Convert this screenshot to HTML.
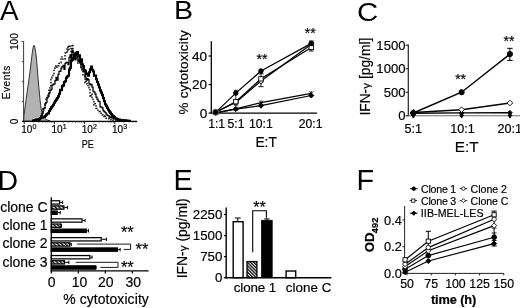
<!DOCTYPE html>
<html><head><meta charset="utf-8"><title>Figure</title>
<style>html,body{margin:0;padding:0;background:#fff;overflow:hidden}svg{display:block}text{font-family:"Liberation Sans",Arial,sans-serif;fill:#000;stroke:#000;stroke-width:0.18px}text.L{stroke:none}</style>
</head><body>
<svg width="520" height="308" viewBox="0 0 520 308">
<rect width="520" height="308" fill="#fff"/>
<text class="L" transform="translate(0.1 20) scale(1.0 1)" font-size="27.9">A</text>
<text class="L" transform="translate(174.0 19.3) scale(1.1 1)" font-size="26">B</text>
<text class="L" transform="translate(356.9 20.5) scale(1.13 1)" font-size="26">C</text>
<text class="L" transform="translate(-2.6 189.6) scale(1.0 1)" font-size="28.5">D</text>
<text class="L" transform="translate(173.5 189.8) scale(1.0 1)" font-size="28.8">E</text>
<text class="L" transform="translate(356.6 189.9) scale(1.0 1)" font-size="28.8">F</text>
<polygon points="23.6,121.2 23.9,116 24.8,109 26,100.4 27.4,90 28.9,80 30.2,70 31.4,60 32.4,52 33.2,47.2 34,45.3 34.8,47.2 35.7,52.5 36.6,60 37.4,70 38.2,80 39.1,90 40.1,100.4 41.2,109 42.6,115.3 44.5,118.4 47.5,120 50.5,121.2" fill="#b2b2b2" stroke="#333" stroke-width="1.0"/>
<polyline points="38.0,120.2 39.0,120.2 39.0,119.3 40.0,119.3 40.0,117.3 41.0,117.3 41.0,115.9 42.0,115.9 42.0,112.0 43.0,112.0 43.0,108.8 44.0,108.8 44.0,107.6 45.0,107.6 45.0,102.8 46.0,102.8 46.0,99.1 47.0,99.1 47.0,96.4 48.0,96.4 48.0,93.5 49.0,93.5 49.0,87.9 50.0,87.9 50.0,85.8 51.0,85.8 51.0,79.4 52.0,79.4 52.0,77.2 53.0,77.2 53.0,74.6 54.0,74.6 54.0,70.4 55.0,70.4 55.0,67.8 56.0,67.8 56.0,65.6 57.0,65.6 57.0,67.3 58.0,67.3 58.0,65.7 59.0,65.7 59.0,63.5 60.0,63.5 60.0,62.8 61.0,62.8 61.0,56.9 62.0,56.9 62.0,59.1 63.0,59.1 63.0,58.9 64.0,58.9 64.0,59.2 65.0,59.2 65.0,53.0 66.0,53.0 66.0,53.3 67.0,53.3 67.0,47.0 68.0,47.0 68.0,50.8 69.0,50.8 69.0,45.2 70.0,45.2 70.0,46.4 71.0,46.4 71.0,54.4 72.0,54.4 72.0,44.6 73.0,44.6 73.0,54.9 74.0,54.9 74.0,54.1 75.0,54.1 75.0,53.8 76.0,53.8 76.0,58.0 77.0,58.0 77.0,60.1 78.0,60.1 78.0,63.4 79.0,63.4 79.0,62.5 80.0,62.5 80.0,64.5 81.0,64.5 81.0,67.6 82.0,67.6 82.0,69.8 83.0,69.8 83.0,74.9 84.0,74.9 84.0,76.0 85.0,76.0 85.0,82.7 86.0,82.7 86.0,79.7 87.0,79.7 87.0,84.1 88.0,84.1 88.0,87.2 89.0,87.2 89.0,88.4 90.0,88.4 90.0,96.9 91.0,96.9 91.0,94.0 92.0,94.0 92.0,98.6 93.0,98.6 93.0,100.7 94.0,100.7 94.0,105.1 95.0,105.1 95.0,103.6 96.0,103.6 96.0,108.4 97.0,108.4 97.0,108.4 98.0,108.4 98.0,110.4 99.0,110.4 99.0,111.5 100.0,111.5 100.0,113.3 101.0,113.3 101.0,113.3 102.0,113.3 102.0,114.9 103.0,114.9 103.0,116.0 104.0,116.0 104.0,117.3 105.0,117.3 105.0,116.2 106.0,116.2 106.0,118.3 107.0,118.3 107.0,118.5 108.0,118.5 108.0,118.4 109.0,118.4 109.0,119.0 110.0,119.0 110.0,119.1 111.0,119.1 111.0,120.1 112.0,120.1 112.0,119.9 113.0,119.9 113.0,120.0 114.0,120.0 114.0,120.1 115.0,120.1 115.0,120.2 116.0,120.2 116.0,120.4 117.0,120.4 117.0,120.4 118.0,120.4 118.0,120.8 119.0,120.8 119.0,120.3" fill="none" stroke="#000" stroke-width="1.4" stroke-dasharray="1.5 1.6" stroke-linejoin="miter"/>
<polyline points="38.0,120.1 39.0,120.1 39.0,119.1 40.0,119.1 40.0,118.7 41.0,118.7 41.0,115.8 42.0,115.8 42.0,113.7 43.0,113.7 43.0,109.8 44.0,109.8 44.0,108.1 45.0,108.1 45.0,103.7 46.0,103.7 46.0,102.3 47.0,102.3 47.0,97.8 48.0,97.8 48.0,96.3 49.0,96.3 49.0,93.1 50.0,93.1 50.0,90.3 51.0,90.3 51.0,89.3 52.0,89.3 52.0,85.1 53.0,85.1 53.0,84.3 54.0,84.3 54.0,83.8 55.0,83.8 55.0,80.5 56.0,80.5 56.0,77.4 57.0,77.4 57.0,80.0 58.0,80.0 58.0,74.4 59.0,74.4 59.0,71.3 60.0,71.3 60.0,71.1 61.0,71.1 61.0,68.0 62.0,68.0 62.0,66.7 63.0,66.7 63.0,65.3 64.0,65.3 64.0,69.4 65.0,69.4 65.0,63.4 66.0,63.4 66.0,62.4 67.0,62.4 67.0,62.3 68.0,62.3 68.0,64.5 69.0,64.5 69.0,57.4 70.0,57.4 70.0,55.0 71.0,55.0 71.0,60.9 72.0,60.9 72.0,50.4 73.0,50.4 73.0,52.3 74.0,52.3 74.0,54.2 75.0,54.2 75.0,59.8 76.0,59.8 76.0,53.5 77.0,53.5 77.0,52.7 78.0,52.7 78.0,61.7 79.0,61.7 79.0,60.7 80.0,60.7 80.0,63.1 81.0,63.1 81.0,67.2 82.0,67.2 82.0,68.8 83.0,68.8 83.0,71.0 84.0,71.0 84.0,71.6 85.0,71.6 85.0,77.1 86.0,77.1 86.0,79.4 87.0,79.4 87.0,78.6 88.0,78.6 88.0,79.7 89.0,79.7 89.0,83.6 90.0,83.6 90.0,84.9 91.0,84.9 91.0,84.3 92.0,84.3 92.0,87.1 93.0,87.1 93.0,91.4 94.0,91.4 94.0,92.1 95.0,92.1 95.0,94.1 96.0,94.1 96.0,97.1 97.0,97.1 97.0,99.0 98.0,99.0 98.0,101.1 99.0,101.1 99.0,101.5 100.0,101.5 100.0,106.8 101.0,106.8 101.0,107.1 102.0,107.1 102.0,107.8 103.0,107.8 103.0,110.5 104.0,110.5 104.0,111.5 105.0,111.5 105.0,112.5 106.0,112.5 106.0,114.0 107.0,114.0 107.0,115.4 108.0,115.4 108.0,115.7 109.0,115.7 109.0,116.9 110.0,116.9 110.0,117.5 111.0,117.5 111.0,116.9 112.0,116.9 112.0,117.6 113.0,117.6 113.0,118.6 114.0,118.6 114.0,118.2 115.0,118.2 115.0,118.9 116.0,118.9 116.0,119.5 117.0,119.5 117.0,119.7 118.0,119.7 118.0,119.8 119.0,119.8 119.0,119.4 120.0,119.4 120.0,120.6 121.0,120.6 121.0,120.4 122.0,120.4 122.0,120.5 123.0,120.5 123.0,120.5 124.0,120.5 124.0,120.1 125.0,120.1 125.0,120.3 126.0,120.3 126.0,120.4 127.0,120.4 127.0,120.8 128.0,120.8 128.0,120.6" fill="none" stroke="#000" stroke-width="1.25" stroke-linejoin="miter"/>
<polyline points="32.0,120.5 33.0,120.5 33.0,120.5 34.0,120.5 34.0,120.4 35.0,120.4 35.0,120.0 36.0,120.0 36.0,119.6 37.0,119.6 37.0,119.6 38.0,119.6 38.0,119.4 39.0,119.4 39.0,119.1 40.0,119.1 40.0,118.2 41.0,118.2 41.0,117.8 42.0,117.8 42.0,117.8 43.0,117.8 43.0,117.3 44.0,117.3 44.0,116.9 45.0,116.9 45.0,115.9 46.0,115.9 46.0,114.6 47.0,114.6 47.0,113.7 48.0,113.7 48.0,113.4 49.0,113.4 49.0,111.0 50.0,111.0 50.0,109.1 51.0,109.1 51.0,107.4 52.0,107.4 52.0,106.3 53.0,106.3 53.0,104.7 54.0,104.7 54.0,102.7 55.0,102.7 55.0,101.1 56.0,101.1 56.0,99.6 57.0,99.6 57.0,98.1 58.0,98.1 58.0,96.4 59.0,96.4 59.0,93.7 60.0,93.7 60.0,89.9 61.0,89.9 61.0,90.2 62.0,90.2 62.0,86.1 63.0,86.1 63.0,85.4 64.0,85.4 64.0,82.0 65.0,82.0 65.0,81.3 66.0,81.3 66.0,77.8 67.0,77.8 67.0,76.5 68.0,76.5 68.0,75.7 69.0,75.7 69.0,69.6 70.0,69.6 70.0,67.6 71.0,67.6 71.0,60.8 72.0,60.8 72.0,59.6 73.0,59.6 73.0,58.5 74.0,58.5 74.0,55.0 75.0,55.0 75.0,54.2 76.0,54.2 76.0,52.9 77.0,52.9 77.0,52.0 78.0,52.0 78.0,56.3 79.0,56.3 79.0,55.3 80.0,55.3 80.0,61.7 81.0,61.7 81.0,59.4 82.0,59.4 82.0,64.3 83.0,64.3 83.0,66.0 84.0,66.0 84.0,70.2 85.0,70.2 85.0,70.7 86.0,70.7 86.0,74.1 87.0,74.1 87.0,73.5 88.0,73.5 88.0,75.7 89.0,75.7 89.0,72.2 90.0,72.2 90.0,69.4 91.0,69.4 91.0,66.5 92.0,66.5 92.0,69.8 93.0,69.8 93.0,71.5 94.0,71.5 94.0,75.7 95.0,75.7 95.0,75.5 96.0,75.5 96.0,79.1 97.0,79.1 97.0,82.0 98.0,82.0 98.0,84.6 99.0,84.6 99.0,87.5 100.0,87.5 100.0,90.4 101.0,90.4 101.0,92.6 102.0,92.6 102.0,95.1 103.0,95.1 103.0,98.1 104.0,98.1 104.0,101.2 105.0,101.2 105.0,104.2 106.0,104.2 106.0,105.9 107.0,105.9 107.0,107.9 108.0,107.9 108.0,109.7 109.0,109.7 109.0,111.4 110.0,111.4 110.0,112.6 111.0,112.6 111.0,114.1 112.0,114.1 112.0,115.6 113.0,115.6 113.0,116.1 114.0,116.1 114.0,117.0 115.0,117.0 115.0,118.3 116.0,118.3 116.0,118.5 117.0,118.5 117.0,119.2 118.0,119.2 118.0,119.8 119.0,119.8 119.0,119.5 120.0,119.5 120.0,120.2 121.0,120.2 121.0,120.3 122.0,120.3 122.0,120.1 123.0,120.1 123.0,120.4 124.0,120.4 124.0,120.4 125.0,120.4 125.0,120.3 126.0,120.3 126.0,120.5 127.0,120.5 127.0,120.6 128.0,120.6 128.0,120.8 129.0,120.8 129.0,120.8 130.0,120.8 130.0,120.8 131.0,120.8 131.0,120.8" fill="none" stroke="#000" stroke-width="2.1" stroke-linejoin="miter"/>
<line x1="23.6" y1="41" x2="23.6" y2="121.9" stroke="#3a3a3a" stroke-width="1.0" />
<line x1="22.0" y1="121.4" x2="137.2" y2="121.4" stroke="#000" stroke-width="1.3" />
<line x1="21.4" y1="41.4" x2="23.6" y2="41.4" stroke="#3a3a3a" stroke-width="0.9" />
<line x1="21.9" y1="61.6" x2="23.6" y2="61.6" stroke="#3a3a3a" stroke-width="0.9" />
<line x1="21.9" y1="81.6" x2="23.6" y2="81.6" stroke="#3a3a3a" stroke-width="0.9" />
<line x1="21.9" y1="101.5" x2="23.6" y2="101.5" stroke="#3a3a3a" stroke-width="0.9" />
<line x1="24.2" y1="121.4" x2="24.2" y2="124.0" stroke="#222" stroke-width="1.0" />
<line x1="33.29110586905223" y1="121.4" x2="33.29110586905223" y2="123.0" stroke="#444" stroke-width="0.6" />
<line x1="38.6090618925338" y1="121.4" x2="38.6090618925338" y2="123.0" stroke="#444" stroke-width="0.6" />
<line x1="42.38221173810446" y1="121.4" x2="42.38221173810446" y2="123.0" stroke="#444" stroke-width="0.6" />
<line x1="45.30889413094776" y1="121.4" x2="45.30889413094776" y2="123.0" stroke="#444" stroke-width="0.6" />
<line x1="47.70016776158604" y1="121.4" x2="47.70016776158604" y2="123.0" stroke="#444" stroke-width="0.6" />
<line x1="49.72196080843055" y1="121.4" x2="49.72196080843055" y2="123.0" stroke="#444" stroke-width="0.6" />
<line x1="51.473317607156694" y1="121.4" x2="51.473317607156694" y2="123.0" stroke="#444" stroke-width="0.6" />
<line x1="53.01812378506761" y1="121.4" x2="53.01812378506761" y2="123.0" stroke="#444" stroke-width="0.6" />
<line x1="54.4" y1="121.4" x2="54.4" y2="124.0" stroke="#222" stroke-width="1.0" />
<line x1="63.491105869052234" y1="121.4" x2="63.491105869052234" y2="123.0" stroke="#444" stroke-width="0.6" />
<line x1="68.8090618925338" y1="121.4" x2="68.8090618925338" y2="123.0" stroke="#444" stroke-width="0.6" />
<line x1="72.58221173810446" y1="121.4" x2="72.58221173810446" y2="123.0" stroke="#444" stroke-width="0.6" />
<line x1="75.50889413094777" y1="121.4" x2="75.50889413094777" y2="123.0" stroke="#444" stroke-width="0.6" />
<line x1="77.90016776158603" y1="121.4" x2="77.90016776158603" y2="123.0" stroke="#444" stroke-width="0.6" />
<line x1="79.92196080843055" y1="121.4" x2="79.92196080843055" y2="123.0" stroke="#444" stroke-width="0.6" />
<line x1="81.67331760715669" y1="121.4" x2="81.67331760715669" y2="123.0" stroke="#444" stroke-width="0.6" />
<line x1="83.2181237850676" y1="121.4" x2="83.2181237850676" y2="123.0" stroke="#444" stroke-width="0.6" />
<line x1="84.6" y1="121.4" x2="84.6" y2="124.0" stroke="#222" stroke-width="1.0" />
<line x1="93.69110586905222" y1="121.4" x2="93.69110586905222" y2="123.0" stroke="#444" stroke-width="0.6" />
<line x1="99.0090618925338" y1="121.4" x2="99.0090618925338" y2="123.0" stroke="#444" stroke-width="0.6" />
<line x1="102.78221173810445" y1="121.4" x2="102.78221173810445" y2="123.0" stroke="#444" stroke-width="0.6" />
<line x1="105.70889413094775" y1="121.4" x2="105.70889413094775" y2="123.0" stroke="#444" stroke-width="0.6" />
<line x1="108.10016776158604" y1="121.4" x2="108.10016776158604" y2="123.0" stroke="#444" stroke-width="0.6" />
<line x1="110.12196080843054" y1="121.4" x2="110.12196080843054" y2="123.0" stroke="#444" stroke-width="0.6" />
<line x1="111.8733176071567" y1="121.4" x2="111.8733176071567" y2="123.0" stroke="#444" stroke-width="0.6" />
<line x1="113.4181237850676" y1="121.4" x2="113.4181237850676" y2="123.0" stroke="#444" stroke-width="0.6" />
<line x1="114.8" y1="121.4" x2="114.8" y2="124.0" stroke="#222" stroke-width="1.0" />
<line x1="123.89110586905223" y1="121.4" x2="123.89110586905223" y2="123.0" stroke="#444" stroke-width="0.6" />
<line x1="129.2090618925338" y1="121.4" x2="129.2090618925338" y2="123.0" stroke="#444" stroke-width="0.6" />
<line x1="132.98221173810447" y1="121.4" x2="132.98221173810447" y2="123.0" stroke="#444" stroke-width="0.6" />
<line x1="135.90889413094777" y1="121.4" x2="135.90889413094777" y2="123.0" stroke="#444" stroke-width="0.6" />
<text x="18.3" y="41.6" font-size="10" text-anchor="middle" transform="rotate(-90 18.3 41.6)" >100</text>
<text x="18.3" y="121.5" font-size="10" text-anchor="middle" transform="rotate(-90 18.3 121.5)" >0</text>
<text x="9.9" y="99.2" font-size="10" transform="rotate(-90 9.9 99.2)" textLength="33.4" lengthAdjust="spacing" >Events</text>
<text x="21.3" y="133.3" font-size="10" >10</text>
<text x="32.6" y="128.9" font-size="7" >0</text>
<text x="51.5" y="133.3" font-size="10" >10</text>
<text x="62.8" y="128.9" font-size="7" >1</text>
<text x="81.7" y="133.3" font-size="10" >10</text>
<text x="93.0" y="128.9" font-size="7" >2</text>
<text x="111.89999999999999" y="133.3" font-size="10" >10</text>
<text x="123.19999999999999" y="128.9" font-size="7" >3</text>
<text transform="translate(81.8 147.6) scale(0.9 1.04)" font-size="10">PE</text>
<line x1="211.3" y1="41.2" x2="211.3" y2="113.75" stroke="#000" stroke-width="1.3" />
<line x1="210.65" y1="113.1" x2="317" y2="113.1" stroke="#000" stroke-width="1.3" />
<line x1="208.6" y1="113.1" x2="211.3" y2="113.1" stroke="#000" stroke-width="1.2" />
<line x1="208.6" y1="84.55" x2="211.3" y2="84.55" stroke="#000" stroke-width="1.2" />
<line x1="208.6" y1="55.99999999999999" x2="211.3" y2="55.99999999999999" stroke="#000" stroke-width="1.2" />
<text x="207.2" y="117.89999999999999" font-size="13.6" text-anchor="end" >0</text>
<text x="207.2" y="89.45" font-size="13.6" text-anchor="end" >20</text>
<text x="207.2" y="60.89999999999999" font-size="13.6" text-anchor="end" >40</text>
<text x="208.2" y="128.2" font-size="12.2" >1:1</text>
<text x="227.6" y="128.2" font-size="12.2" >5:1</text>
<text x="249" y="128.2" font-size="12.2" >10:1</text>
<text x="298.8" y="128.2" font-size="12.2" >20:1</text>
<text x="255.4" y="146.9" font-size="13.8" >E:T</text>
<text x="187.9" y="114.4" font-size="13.4" transform="rotate(-90 187.9 114.4)" textLength="84.0" lengthAdjust="spacing" >% cytotoxicity</text>
<text x="262.0" y="64.4" font-size="14" text-anchor="middle" >**</text>
<text x="310.3" y="37.6" font-size="14" text-anchor="middle" >**</text>
<polyline points="215.7,112.8 235.8,108.8 261.0,102.7 311.3,93.4" fill="none" stroke="#000" stroke-width="1.2" />
<polyline points="215.7,112.8 235.8,109.1 261.0,105.7 311.3,95.5" fill="none" stroke="#000" stroke-width="1.2" />
<polyline points="215.7,112.4 235.8,101.7 261.0,78.8 311.3,47.4" fill="none" stroke="#000" stroke-width="1.2" />
<polyline points="215.7,112.0 235.8,102.4 261.0,81.0 311.3,44.3" fill="none" stroke="#000" stroke-width="1.2" />
<polyline points="215.7,112.4 235.8,93.1 261.0,71.0 311.3,43.4" fill="none" stroke="#000" stroke-width="1.2" />
<line x1="260.96999999999997" y1="73.84375" x2="260.96999999999997" y2="86.69125" stroke="#000" stroke-width="0.9" />
<line x1="258.36999999999995" y1="73.84375" x2="263.57" y2="73.84375" stroke="#000" stroke-width="0.9" />
<line x1="258.36999999999995" y1="86.69125" x2="263.57" y2="86.69125" stroke="#000" stroke-width="0.9" />
<line x1="311.27" y1="41.01124999999999" x2="311.27" y2="51.00375" stroke="#000" stroke-width="0.9" />
<line x1="308.87" y1="41.01124999999999" x2="313.66999999999996" y2="41.01124999999999" stroke="#000" stroke-width="0.9" />
<line x1="308.87" y1="51.00375" x2="313.66999999999996" y2="51.00375" stroke="#000" stroke-width="0.9" />
<line x1="235.82" y1="90.25999999999999" x2="235.82" y2="105.24875" stroke="#000" stroke-width="0.8" />
<line x1="233.82" y1="90.25999999999999" x2="237.82" y2="90.25999999999999" stroke="#000" stroke-width="0.8" />
<line x1="233.82" y1="105.24875" x2="237.82" y2="105.24875" stroke="#000" stroke-width="0.8" />
<line x1="213.7" y1="110.8145" x2="217.7" y2="114.8145" stroke="#000" stroke-width="0.9" />
<line x1="213.7" y1="114.8145" x2="217.7" y2="110.8145" stroke="#000" stroke-width="0.9" />
<line x1="215.7" y1="110.41449999999999" x2="215.7" y2="115.2145" stroke="#000" stroke-width="0.9" />
<line x1="233.82" y1="106.8175" x2="237.82" y2="110.8175" stroke="#000" stroke-width="0.9" />
<line x1="233.82" y1="110.8175" x2="237.82" y2="106.8175" stroke="#000" stroke-width="0.9" />
<line x1="235.82" y1="106.41749999999999" x2="235.82" y2="111.2175" stroke="#000" stroke-width="0.9" />
<line x1="258.96999999999997" y1="100.67925" x2="262.96999999999997" y2="104.67925" stroke="#000" stroke-width="0.9" />
<line x1="258.96999999999997" y1="104.67925" x2="262.96999999999997" y2="100.67925" stroke="#000" stroke-width="0.9" />
<line x1="260.96999999999997" y1="100.27924999999999" x2="260.96999999999997" y2="105.07925" stroke="#000" stroke-width="0.9" />
<line x1="309.27" y1="91.4005" x2="313.27" y2="95.4005" stroke="#000" stroke-width="0.9" />
<line x1="309.27" y1="95.4005" x2="313.27" y2="91.4005" stroke="#000" stroke-width="0.9" />
<line x1="311.27" y1="91.00049999999999" x2="311.27" y2="95.8005" stroke="#000" stroke-width="0.9" />
<polygon points="215.7,110.3145 218.2,112.8145 215.7,115.3145 213.2,112.8145" fill="#000" stroke="#000" stroke-width="1"/>
<polygon points="235.82,106.603 238.32,109.103 235.82,111.603 233.32,109.103" fill="#000" stroke="#000" stroke-width="1"/>
<polygon points="260.96999999999997,103.17699999999999 263.46999999999997,105.67699999999999 260.96999999999997,108.17699999999999 258.46999999999997,105.67699999999999" fill="#000" stroke="#000" stroke-width="1"/>
<polygon points="311.27,93.04175 313.77,95.54175 311.27,98.04175 308.77,95.54175" fill="#000" stroke="#000" stroke-width="1"/>
<circle cx="215.7" cy="111.958" r="2.4" fill="#fff" stroke="#000" stroke-width="0.9"/>
<circle cx="235.82" cy="102.39375" r="2.4" fill="#fff" stroke="#000" stroke-width="0.9"/>
<circle cx="260.96999999999997" cy="80.98124999999999" r="2.4" fill="#fff" stroke="#000" stroke-width="0.9"/>
<circle cx="311.27" cy="44.294499999999985" r="2.4" fill="#fff" stroke="#000" stroke-width="0.9"/>
<rect x="213.5" y="110.18624999999999" width="4.4" height="4.4" fill="#fff" stroke="#000" stroke-width="0.9"/>
<rect x="233.62" y="99.47999999999999" width="4.4" height="4.4" fill="#fff" stroke="#000" stroke-width="0.9"/>
<rect x="258.77" y="76.64" width="4.4" height="4.4" fill="#fff" stroke="#000" stroke-width="0.9"/>
<rect x="309.07" y="45.234999999999985" width="4.4" height="4.4" fill="#fff" stroke="#000" stroke-width="0.9"/>
<circle cx="215.7" cy="112.38624999999999" r="2.25" fill="#000" stroke="#000" stroke-width="1"/>
<circle cx="235.82" cy="93.115" r="2.25" fill="#000" stroke="#000" stroke-width="1"/>
<circle cx="260.96999999999997" cy="70.98875" r="2.25" fill="#000" stroke="#000" stroke-width="1"/>
<circle cx="311.27" cy="43.438" r="2.25" fill="#000" stroke="#000" stroke-width="1"/>
<circle cx="215.7" cy="112.2435" r="3.1" fill="none" stroke="#777" stroke-width="0.8"/>
<line x1="408.3" y1="44.4" x2="408.3" y2="116.3" stroke="#222" stroke-width="1.2" />
<line x1="407.7" y1="115.8" x2="520" y2="115.8" stroke="#6a6a6a" stroke-width="1.1" />
<line x1="405.6" y1="115.8" x2="408.3" y2="115.8" stroke="#222" stroke-width="1.1" />
<line x1="405.6" y1="92.25" x2="408.3" y2="92.25" stroke="#222" stroke-width="1.1" />
<line x1="405.6" y1="68.69999999999999" x2="408.3" y2="68.69999999999999" stroke="#222" stroke-width="1.1" />
<line x1="405.6" y1="45.14999999999999" x2="408.3" y2="45.14999999999999" stroke="#222" stroke-width="1.1" />
<text x="405.5" y="120.39999999999999" font-size="13.1" text-anchor="end" >0</text>
<text x="405.5" y="96.85" font-size="13.1" text-anchor="end" >500</text>
<text x="405.5" y="73.29999999999998" font-size="13.1" text-anchor="end" >1000</text>
<text x="405.5" y="49.74999999999999" font-size="13.1" text-anchor="end" >1500</text>
<text x="404.6" y="132.7" font-size="12.6" >5:1</text>
<text x="450.3" y="132.7" font-size="12.6" >10:1</text>
<text x="497.4" y="132.7" font-size="12.6" >20:1</text>
<text x="454.8" y="152.1" font-size="15.3" >E:T</text>
<text x="370.5" y="115.6" font-size="13.8" transform="rotate(-90 370.5 115.6)" >IFN-<tspan font-size="11.7">γ</tspan> [pg/ml]</text>
<text x="460.6" y="84.2" font-size="14" text-anchor="middle" >**</text>
<text x="509" y="46.4" font-size="14" text-anchor="middle" >**</text>
<polyline points="413.3,113.2 461.6,112.9 509.9,112.7" fill="none" stroke="#000" stroke-width="1.4" />
<polyline points="413.3,112.5 461.6,109.7 509.9,103.0" fill="none" stroke="#000" stroke-width="1.4" />
<polyline points="413.3,113.0 461.6,92.2 509.9,54.1" fill="none" stroke="#000" stroke-width="1.4" />
<line x1="509.9" y1="48.3" x2="509.9" y2="60.4" stroke="#000" stroke-width="1.0" />
<line x1="507.2" y1="48.3" x2="512.6" y2="48.3" stroke="#000" stroke-width="1.0" />
<line x1="507.2" y1="60.4" x2="512.6" y2="60.4" stroke="#000" stroke-width="1.0" />
<polygon points="411.5,114.8658 415.1,114.8658 413.3,118.10579999999999" fill="#000" stroke="#000" stroke-width="1"/>
<polygon points="459.8,114.8658 463.40000000000003,114.8658 461.6,118.10579999999999" fill="#000" stroke="#000" stroke-width="1"/>
<polygon points="508.09999999999997,114.8658 511.7,114.8658 509.9,118.10579999999999" fill="#000" stroke="#000" stroke-width="1"/>
<polygon points="413.3,110.9095 415.6,113.20949999999999 413.3,115.50949999999999 411.0,113.20949999999999" fill="#000" stroke="#000" stroke-width="1"/>
<polygon points="461.6,110.5798 463.90000000000003,112.8798 461.6,115.1798 459.3,112.8798" fill="#000" stroke="#000" stroke-width="1"/>
<polygon points="509.9,110.3914 512.1999999999999,112.6914 509.9,114.9914 507.59999999999997,112.6914" fill="#000" stroke="#000" stroke-width="1"/>
<polygon points="413.3,109.703 416.1,112.503 413.3,115.303 410.5,112.503" fill="#fff" stroke="#000" stroke-width="0.9"/>
<polygon points="461.6,106.877 464.40000000000003,109.67699999999999 461.6,112.47699999999999 458.8,109.67699999999999" fill="#fff" stroke="#000" stroke-width="0.9"/>
<polygon points="509.9,100.1888 512.6999999999999,102.9888 509.9,105.7888 507.09999999999997,102.9888" fill="#fff" stroke="#000" stroke-width="0.9"/>
<circle cx="413.3" cy="112.974" r="2.6" fill="#000" stroke="#000" stroke-width="1"/>
<circle cx="461.6" cy="92.25" r="2.6" fill="#000" stroke="#000" stroke-width="1"/>
<circle cx="509.9" cy="54.099" r="2.6" fill="#000" stroke="#000" stroke-width="1"/>
<polygon points="413.7,109.5798 417.0,112.8798 413.7,116.1798 410.4,112.8798" fill="#000" stroke="#000" stroke-width="1"/>
<defs><pattern id="h1" width="2.7" height="2.7" patternUnits="userSpaceOnUse" patternTransform="rotate(-45)"><rect width="2.7" height="2.7" fill="#fff"/><rect width="1.35" height="2.7" fill="#000"/></pattern></defs>
<line x1="51.3" y1="197.3" x2="51.3" y2="271.5" stroke="#000" stroke-width="1.3" />
<line x1="50.7" y1="270.9" x2="148.6" y2="270.9" stroke="#000" stroke-width="1.3" />
<line x1="51.3" y1="270.9" x2="51.3" y2="273.4" stroke="#000" stroke-width="1.2" />
<line x1="78.3" y1="270.9" x2="78.3" y2="273.4" stroke="#000" stroke-width="1.2" />
<line x1="105.3" y1="270.9" x2="105.3" y2="273.4" stroke="#000" stroke-width="1.2" />
<line x1="132.3" y1="270.9" x2="132.3" y2="273.4" stroke="#000" stroke-width="1.2" />
<text x="51.6" y="286.5" font-size="14" text-anchor="middle" >0</text>
<text x="79.6" y="286.5" font-size="14" text-anchor="middle" >10</text>
<text x="105.8" y="286.5" font-size="14" text-anchor="middle" >20</text>
<text x="133.2" y="286.5" font-size="14" text-anchor="middle" >30</text>
<text x="63.2" y="304.1" font-size="13.9" textLength="85.6" lengthAdjust="spacing" >% cytotoxicity</text>
<text x="47.6" y="212.1" font-size="14" text-anchor="end" >clone C</text>
<text x="47.6" y="230.1" font-size="14" text-anchor="end" >clone 1</text>
<text x="47.6" y="248.3" font-size="14" text-anchor="end" >clone 2</text>
<text x="47.6" y="266.5" font-size="14" text-anchor="end" >clone 3</text>
<line x1="60.209999999999994" y1="202.4" x2="62.64" y2="202.4" stroke="#000" stroke-width="1.0" />
<line x1="62.64" y1="200.70000000000002" x2="62.64" y2="204.1" stroke="#000" stroke-width="1.0" />
<rect x="51.3" y="200.75" width="8.31" height="3.3" fill="#fff" stroke="#000" stroke-width="1.25"/>
<line x1="64.53" y1="207.55" x2="67.5" y2="207.55" stroke="#000" stroke-width="1.0" />
<line x1="67.5" y1="205.85000000000002" x2="67.5" y2="209.25" stroke="#000" stroke-width="1.0" />
<rect x="51.3" y="205.90" width="12.63" height="3.3" fill="url(#h1)" stroke="#000" stroke-width="1.25"/>
<line x1="57.78" y1="212.70000000000002" x2="60.209999999999994" y2="212.70000000000002" stroke="#000" stroke-width="1.0" />
<line x1="60.209999999999994" y1="211.00000000000003" x2="60.209999999999994" y2="214.4" stroke="#000" stroke-width="1.0" />
<rect x="51.3" y="211.05" width="5.88" height="3.3" fill="#000" stroke="#000" stroke-width="1.25"/>
<line x1="82.62" y1="220.5" x2="85.05" y2="220.5" stroke="#000" stroke-width="1.0" />
<line x1="85.05" y1="218.8" x2="85.05" y2="222.2" stroke="#000" stroke-width="1.0" />
<rect x="51.3" y="218.85" width="30.72" height="3.3" fill="#fff" stroke="#000" stroke-width="1.25"/>
<line x1="61.559999999999995" y1="225.65" x2="61.559999999999995" y2="225.65" stroke="#000" stroke-width="1.0" />
<line x1="61.559999999999995" y1="223.95000000000002" x2="61.559999999999995" y2="227.35" stroke="#000" stroke-width="1.0" />
<rect x="51.3" y="224.00" width="9.66" height="3.3" fill="url(#h1)" stroke="#000" stroke-width="1.25"/>
<line x1="86.94" y1="230.8" x2="88.56" y2="230.8" stroke="#000" stroke-width="1.0" />
<line x1="88.56" y1="229.10000000000002" x2="88.56" y2="232.5" stroke="#000" stroke-width="1.0" />
<rect x="51.3" y="229.15" width="35.04" height="3.3" fill="#000" stroke="#000" stroke-width="1.25"/>
<line x1="101.78999999999999" y1="239.3" x2="106.38" y2="239.3" stroke="#000" stroke-width="1.0" />
<line x1="106.38" y1="237.60000000000002" x2="106.38" y2="241.0" stroke="#000" stroke-width="1.0" />
<rect x="51.3" y="237.65" width="49.89" height="3.3" fill="#fff" stroke="#000" stroke-width="1.25"/>
<line x1="70.47" y1="244.45000000000002" x2="71.28" y2="244.45000000000002" stroke="#000" stroke-width="1.0" />
<line x1="71.28" y1="242.75000000000003" x2="71.28" y2="246.15" stroke="#000" stroke-width="1.0" />
<rect x="51.3" y="242.80" width="18.57" height="3.3" fill="url(#h1)" stroke="#000" stroke-width="1.25"/>
<line x1="117.99" y1="249.60000000000002" x2="120.15" y2="249.60000000000002" stroke="#000" stroke-width="1.0" />
<line x1="120.15" y1="247.90000000000003" x2="120.15" y2="251.3" stroke="#000" stroke-width="1.0" />
<rect x="51.3" y="247.95" width="66.09" height="3.3" fill="#000" stroke="#000" stroke-width="1.25"/>
<line x1="90.45" y1="257.2" x2="92.07" y2="257.2" stroke="#000" stroke-width="1.0" />
<line x1="92.07" y1="255.5" x2="92.07" y2="258.9" stroke="#000" stroke-width="1.0" />
<rect x="51.3" y="255.55" width="38.55" height="3.3" fill="#fff" stroke="#000" stroke-width="1.25"/>
<line x1="65.07" y1="262.34999999999997" x2="68.85" y2="262.34999999999997" stroke="#000" stroke-width="1.0" />
<line x1="68.85" y1="260.65" x2="68.85" y2="264.04999999999995" stroke="#000" stroke-width="1.0" />
<rect x="51.3" y="260.70" width="13.17" height="3.3" fill="url(#h1)" stroke="#000" stroke-width="1.25"/>
<line x1="96.12" y1="267.5" x2="96.12" y2="267.5" stroke="#000" stroke-width="1.0" />
<line x1="96.12" y1="265.8" x2="96.12" y2="269.2" stroke="#000" stroke-width="1.0" />
<rect x="51.3" y="265.85" width="44.22" height="3.3" fill="#000" stroke="#000" stroke-width="1.25"/>
<polyline points="77.1,244.1 130.6,244.1 130.6,249.4 123.6,249.4" fill="none" stroke="#000" stroke-width="0.9" />
<polyline points="75.7,262.3 118.0,262.3 118.0,267.4 100.4,267.4" fill="none" stroke="#000" stroke-width="0.9" />
<text x="127.3" y="237.6" font-size="16.5" text-anchor="middle" >**</text>
<text x="141.9" y="254.7" font-size="16.5" text-anchor="middle" >**</text>
<text x="127.3" y="272.6" font-size="16.5" text-anchor="middle" >**</text>
<line x1="226.2" y1="207.4" x2="226.2" y2="278.4" stroke="#000" stroke-width="1.4" />
<line x1="225.5" y1="277.7" x2="331.3" y2="277.7" stroke="#000" stroke-width="1.4" />
<line x1="223.9" y1="277.7" x2="226.2" y2="277.7" stroke="#000" stroke-width="1.2" />
<line x1="223.9" y1="256.6325" x2="226.2" y2="256.6325" stroke="#000" stroke-width="1.2" />
<line x1="223.9" y1="235.565" x2="226.2" y2="235.565" stroke="#000" stroke-width="1.2" />
<line x1="223.9" y1="214.4975" x2="226.2" y2="214.4975" stroke="#000" stroke-width="1.2" />
<text x="222.4" y="282.4" font-size="13.3" text-anchor="end" >0</text>
<text x="222.4" y="261.3325" font-size="13.3" text-anchor="end" >750</text>
<text x="222.4" y="240.265" font-size="13.3" text-anchor="end" >1500</text>
<text x="222.4" y="219.1975" font-size="13.3" text-anchor="end" >2250</text>
<text x="233.7" y="292.2" font-size="13.4" textLength="42.6" lengthAdjust="spacing" >clone 1</text>
<text x="285.7" y="292.2" font-size="13.4" textLength="45.8" lengthAdjust="spacing" >clone C</text>
<text x="187.2" y="278.3" font-size="13.9" transform="rotate(-90 187.2 278.3)" >IFN-<tspan font-size="11.8">γ</tspan> (pg/ml)</text>
<line x1="237.8" y1="218" x2="237.8" y2="224" stroke="#000" stroke-width="1.0" />
<line x1="234.8" y1="218" x2="240.8" y2="218" stroke="#000" stroke-width="1.0" />
<line x1="234.8" y1="224" x2="240.8" y2="224" stroke="#000" stroke-width="1.0" />
<rect x="233.2" y="221.7" width="9.9" height="56.0" fill="#fff" stroke="#000" stroke-width="1.4"/>
<defs><pattern id="h2" width="2.25" height="2.25" patternUnits="userSpaceOnUse" patternTransform="rotate(-45)"><rect width="2.25" height="2.25" fill="#fff"/><rect width="1.25" height="2.25" fill="#000"/></pattern></defs>
<rect x="247.0" y="261.6" width="9.9" height="16.099999999999966" fill="url(#h2)" stroke="#000" stroke-width="1.3"/>
<line x1="266.9" y1="218.8" x2="266.9" y2="222" stroke="#000" stroke-width="1.0" />
<line x1="264.2" y1="218.9" x2="269.6" y2="218.9" stroke="#000" stroke-width="1.0" />
<rect x="261.6" y="220.3" width="10.6" height="57.39999999999998" fill="#000" stroke="#000" stroke-width="0.8"/>
<rect x="286.1" y="271.0" width="9.6" height="6.699999999999989" fill="#fff" stroke="#000" stroke-width="1.4"/>
<polyline points="252.7,252.3 252.7,210.8 266.4,210.8 266.4,217.8" fill="none" stroke="#000" stroke-width="1.1" />
<text x="259.5" y="213.2" font-size="16" text-anchor="middle" >**</text>
<line x1="404.6" y1="206.0" x2="404.6" y2="273.9" stroke="#222" stroke-width="1.0" />
<line x1="404.1" y1="273.4" x2="503.9" y2="273.4" stroke="#222" stroke-width="1.0" />
<line x1="402.4" y1="273.4" x2="404.6" y2="273.4" stroke="#222" stroke-width="1.0" />
<line x1="402.4" y1="246.7" x2="404.6" y2="246.7" stroke="#222" stroke-width="1.0" />
<line x1="402.4" y1="219.99999999999997" x2="404.6" y2="219.99999999999997" stroke="#222" stroke-width="1.0" />
<line x1="407.0" y1="273.4" x2="407.0" y2="275.4" stroke="#222" stroke-width="1.0" />
<line x1="431.2" y1="273.4" x2="431.2" y2="275.4" stroke="#222" stroke-width="1.0" />
<line x1="455.4" y1="273.4" x2="455.4" y2="275.4" stroke="#222" stroke-width="1.0" />
<line x1="479.6" y1="273.4" x2="479.6" y2="275.4" stroke="#222" stroke-width="1.0" />
<line x1="503.8" y1="273.4" x2="503.8" y2="275.4" stroke="#222" stroke-width="1.0" />
<text x="401.9" y="277.9" font-size="12.8" text-anchor="end" >0.0</text>
<text x="401.9" y="251.2" font-size="12.8" text-anchor="end" >0.2</text>
<text x="401.9" y="224.49999999999997" font-size="12.8" text-anchor="end" >0.4</text>
<text x="407.0" y="287.5" font-size="12.3" text-anchor="middle" >50</text>
<text x="431.2" y="287.5" font-size="12.3" text-anchor="middle" >75</text>
<text x="455.4" y="287.5" font-size="12.3" text-anchor="middle" >100</text>
<text x="479.6" y="287.5" font-size="12.3" text-anchor="middle" >125</text>
<text x="503.8" y="287.5" font-size="12.3" text-anchor="middle" >150</text>
<text x="431" y="303.8" font-size="12.8" font-weight="bold" textLength="45.2" lengthAdjust="spacing" >time (h)</text>
<text x="374.3" y="252.3" font-size="13.3" font-weight="bold" transform="rotate(-90 374.3 252.3)" >OD</text>
<text x="377.6" y="233.2" font-size="9.3" font-weight="bold" transform="rotate(-90 377.6 233.2)" >492</text>
<polyline points="405.1,272.2 428.3,261.0 494.1,243.6" fill="none" stroke="#000" stroke-width="1.15" />
<polyline points="405.1,269.2 428.3,255.6 494.1,237.2" fill="none" stroke="#000" stroke-width="1.15" />
<polyline points="405.1,266.6 428.3,250.8 494.1,225.6" fill="none" stroke="#000" stroke-width="1.15" />
<polyline points="405.1,264.2 428.3,247.6 494.1,219.2" fill="none" stroke="#000" stroke-width="1.15" />
<polyline points="405.1,259.8 428.3,241.2 494.1,214.8" fill="none" stroke="#000" stroke-width="1.15" />
<line x1="428.296" y1="231.3" x2="428.296" y2="250" stroke="#000" stroke-width="1.0" />
<line x1="425.69599999999997" y1="231.3" x2="430.896" y2="231.3" stroke="#000" stroke-width="1.0" />
<line x1="425.69599999999997" y1="250" x2="430.896" y2="250" stroke="#000" stroke-width="1.0" />
<line x1="494.12" y1="211.1" x2="494.12" y2="246" stroke="#000" stroke-width="1.0" />
<line x1="491.52" y1="211.1" x2="496.72" y2="211.1" stroke="#000" stroke-width="1.0" />
<line x1="491.52" y1="246" x2="496.72" y2="246" stroke="#000" stroke-width="1.0" />
<line x1="491.72" y1="228" x2="496.52" y2="228" stroke="#000" stroke-width="0.9" />
<line x1="491.72" y1="233" x2="496.52" y2="233" stroke="#000" stroke-width="0.9" />
<line x1="491.72" y1="240.5" x2="496.52" y2="240.5" stroke="#000" stroke-width="0.9" />
<polygon points="405.064,269.7 407.564,272.2 405.064,274.7 402.564,272.2" fill="#000" stroke="#000" stroke-width="1"/>
<polygon points="428.296,258.5 430.796,261 428.296,263.5 425.796,261" fill="#000" stroke="#000" stroke-width="1"/>
<polygon points="494.12,241.1 496.62,243.6 494.12,246.1 491.62,243.6" fill="#000" stroke="#000" stroke-width="1"/>
<circle cx="405.064" cy="269.2" r="2.4" fill="#000" stroke="#000" stroke-width="1"/>
<circle cx="428.296" cy="255.6" r="2.4" fill="#000" stroke="#000" stroke-width="1"/>
<circle cx="494.12" cy="237.2" r="2.4" fill="#000" stroke="#000" stroke-width="1"/>
<polygon points="405.064,264.0 407.66400000000004,266.6 405.064,269.20000000000005 402.464,266.6" fill="#fff" stroke="#000" stroke-width="0.8"/>
<polygon points="428.296,248.20000000000002 430.896,250.8 428.296,253.4 425.69599999999997,250.8" fill="#fff" stroke="#000" stroke-width="0.8"/>
<polygon points="494.12,223.0 496.72,225.6 494.12,228.2 491.52,225.6" fill="#fff" stroke="#000" stroke-width="0.8"/>
<circle cx="405.064" cy="264.2" r="2.2" fill="#fff" stroke="#000" stroke-width="0.8"/>
<circle cx="428.296" cy="247.6" r="2.2" fill="#fff" stroke="#000" stroke-width="0.8"/>
<circle cx="494.12" cy="219.2" r="2.2" fill="#fff" stroke="#000" stroke-width="0.8"/>
<rect x="402.964" y="257.7" width="4.2" height="4.2" fill="#fff" stroke="#000" stroke-width="0.9"/>
<rect x="426.19599999999997" y="239.1" width="4.2" height="4.2" fill="#fff" stroke="#000" stroke-width="0.9"/>
<rect x="492.02" y="212.70000000000002" width="4.2" height="4.2" fill="#fff" stroke="#000" stroke-width="0.9"/>
<line x1="410" y1="188.7" x2="417.6" y2="188.7" stroke="#000" stroke-width="1.0" />
<circle cx="413.8" cy="188.7" r="1.7" fill="#000" stroke="#000" stroke-width="1"/>
<text x="421" y="193" font-size="10.6" textLength="35.2" lengthAdjust="spacing" >Clone 1</text>
<line x1="459.8" y1="188.6" x2="467.2" y2="188.6" stroke="#000" stroke-width="0.9" />
<circle cx="463.4" cy="188.6" r="1.8" fill="#fff" stroke="#000" stroke-width="0.8"/>
<text x="470.6" y="192.7" font-size="10.6" textLength="36.3" lengthAdjust="spacing" >Clone 2</text>
<line x1="409.6" y1="200.6" x2="417.2" y2="200.6" stroke="#000" stroke-width="0.9" />
<rect x="411.7" y="199.0" width="3.2" height="3.2" fill="#fff" stroke="#000" stroke-width="0.8"/>
<text x="421" y="204.8" font-size="10.6" textLength="35.2" lengthAdjust="spacing" >Clone 3</text>
<line x1="459.8" y1="200.7" x2="467.2" y2="200.7" stroke="#000" stroke-width="0.9" />
<polygon points="463.4,198.7 465.4,200.7 463.4,202.7 461.4,200.7" fill="#fff" stroke="#000" stroke-width="0.8"/>
<text x="470.6" y="204.7" font-size="10.6" textLength="37.8" lengthAdjust="spacing" >Clone C</text>
<line x1="410" y1="213.2" x2="417.6" y2="213.2" stroke="#000" stroke-width="1.0" />
<polygon points="413.8,211.1 415.90000000000003,213.2 413.8,215.29999999999998 411.7,213.2" fill="#000" stroke="#000" stroke-width="1"/>
<text x="420.8" y="217.4" font-size="10.6" textLength="62.8" lengthAdjust="spacing" >IIB-MEL-LES</text>
</svg>
</body></html>
